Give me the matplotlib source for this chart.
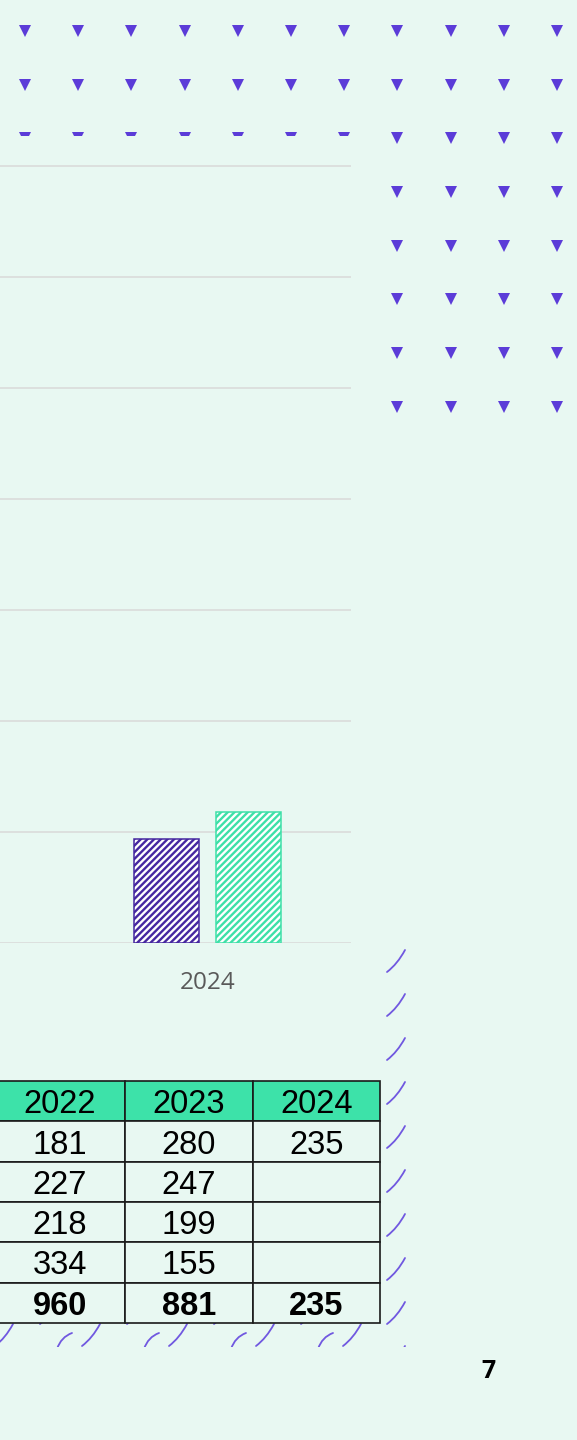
import matplotlib.pyplot as plt
import numpy as np
from matplotlib.path import Path
from matplotlib.patches import PathPatch, Rectangle

# chart data (only the 2024 group is visible in this crop)
categories = ["2024"]
series_a = [235]
series_b = [294]

# table data
table_years = ["2022", "2023", "2024"]
table_rows = [
    ["181", "280", "235"],
    ["227", "247", ""],
    ["218", "199", ""],
    ["334", "155", ""],
]
table_total = ["960", "881", "235"]

bg = "#E8F8F2"
purple = "#4527A0"
green = "#3EE0A8"
tri_color = "#5B3CD8"
slash_color = "#7058E0"

plt.rcParams["hatch.linewidth"] = 1.7

W, H = 577, 1440
fig = plt.figure(figsize=(W / 100, H / 100), dpi=100, facecolor=bg)

# background layer in pixel coordinates
ax_bg = fig.add_axes([0, 0, 1, 1])
ax_bg.set_xlim(0, W)
ax_bg.set_ylim(H, 0)
ax_bg.set_axis_off()

# triangle dot grid
tx = 25 + 53.2 * np.arange(11)
ty = 30.8 + 53.7 * np.arange(8)
gx, gy = np.meshgrid(tx, ty)
ax_bg.plot(gx.ravel(), gy.ravel(), linestyle="none", marker="v", ms=8.8,
           markeredgewidth=0, color=tri_color, zorder=1)

# curved slash decoration
clip = Rectangle((-20, 930), 426, 417, transform=ax_bg.transData)

def slash(xl, yt, w=18, h=22):
    verts = [(xl, yt + h), (xl + 10.5, yt + 14), (xl + w, yt)]
    p = PathPatch(Path(verts, [Path.MOVETO, Path.CURVE3, Path.CURVE3]),
                  fill=False, edgecolor=slash_color, lw=1.3, zorder=1,
                  capstyle="round")
    ax_bg.add_patch(p)
    p.set_clip_path(clip)

def hook(xl, yb=1349):
    verts = [(xl, yb), (xl + 4, yb - 12), (xl + 15, yb - 16)]
    p = PathPatch(Path(verts, [Path.MOVETO, Path.CURVE3, Path.CURVE3]),
                  fill=False, edgecolor=slash_color, lw=1.3, zorder=1,
                  capstyle="round")
    ax_bg.add_patch(p)
    p.set_clip_path(clip)

for j in range(10):
    slash(387, 950 + 44 * j)
for k in range(4):
    slash(40 + 87 * k, 1302)
    hook(57 + 87 * k)
for k in range(5):
    slash(-5 + 87 * k, 1324)

# bar chart
ax = fig.add_axes([0, 1 - 943 / H, 351 / W, 807 / H], facecolor=bg)
x = np.arange(len(categories))
ax.bar(x - 0.41, series_a, width=0.65, color="white", edgecolor=purple,
       hatch="/////", linewidth=1.1)
ax.bar(x + 0.41, series_b, width=0.65, color="white", edgecolor=green,
       hatch="/////", linewidth=1.1)
ax.set_xlim(-2.075, 1.435)
ax.set_ylim(0, 807 / 111 * 250)
ax.set_yticks(np.arange(0, 1751, 250))
ax.yaxis.grid(True, color="#D9D9D9", linewidth=1.1)
ax.set_axisbelow(True)
ax.set_xticks(x, categories, fontsize=17.5, color="#595959", family="Open Sans")
ax.tick_params(axis="x", length=0, pad=20)
ax.tick_params(axis="y", left=False, labelleft=False)
for s in ax.spines.values():
    s.set_visible(False)

# data table
tab = ax_bg.table(cellText=table_rows + [table_total], colLabels=table_years,
                  colWidths=[129, 128.5, 127], cellLoc="center",
                  bbox=[-4.5 / W, 1 - 1323 / H, 384.5 / W, 242 / H])
tab.auto_set_font_size(False)
tab.set_fontsize(23.5)
tab.set_zorder(5)
for (r, c), cell in tab.get_celld().items():
    cell.set_edgecolor("#1A1A1A")
    cell.set_linewidth(1.2)
    cell.set_facecolor("#3DE2A9" if r == 0 else bg)
    cell.get_text().set_fontfamily("Liberation Sans")
    cell.get_text().set_va("center_baseline")
    if r == len(table_rows) + 1:
        cell.get_text().set_fontweight("bold")

# page number
ax_bg.text(488, 1372, "7", fontsize=18, fontweight="bold", family="Open Sans",
           ha="center", va="center")

fig.savefig("out.png", dpi=100, facecolor=bg)
